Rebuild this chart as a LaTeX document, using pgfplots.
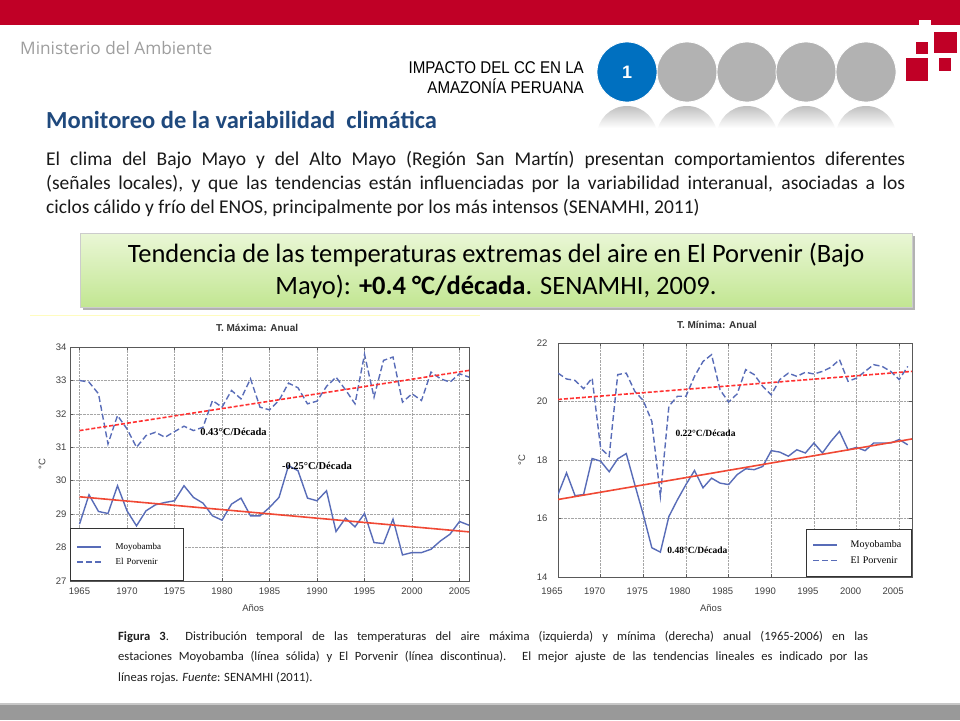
\documentclass[border=0pt]{standalone}
\usepackage{pgfplots}
\pgfplotsset{compat=1.18}
\usepackage{pgfplotstable}
\usepackage{fontspec}
\setmainfont{Carlito}
\newfontfamily\arial{Liberation Sans}
\newfontfamily\tnr{Liberation Serif}
\newfontfamily\osans{Open Sans}

\definecolor{mred}{RGB}{192,0,38}
\definecolor{cgray}{RGB}{178,178,178}
\definecolor{cblue}{RGB}{0,112,192}
\definecolor{headblue}{RGB}{31,73,125}
\definecolor{lineblue}{RGB}{88,108,184}
\definecolor{trendred}{RGB}{240,72,52}
\definecolor{dashred}{RGB}{255,50,50}
\definecolor{gtop}{RGB}{234,247,214}
\definecolor{gbot}{RGB}{194,230,146}

% T. maxima anual (degC)
\pgfplotstableread{
year moy por
1965 28.70 33.00
1966 29.58 32.95
1967 29.08 32.60
1968 29.02 31.10
1969 29.85 31.95
1970 29.10 31.55
1971 28.65 31.00
1972 29.10 31.35
1973 29.28 31.45
1974 29.35 31.30
1975 29.40 31.47
1976 29.85 31.63
1977 29.50 31.50
1978 29.33 31.60
1979 28.95 32.40
1980 28.82 32.20
1981 29.30 32.70
1982 29.48 32.45
1983 28.95 33.05
1984 28.95 32.20
1985 29.20 32.12
1986 29.50 32.40
1987 30.45 32.92
1988 30.30 32.78
1989 29.48 32.30
1990 29.40 32.38
1991 29.70 32.82
1992 28.48 33.10
1993 28.88 32.72
1994 28.62 32.30
1995 29.02 33.78
1996 28.15 32.50
1997 28.12 33.60
1998 28.85 33.70
1999 27.78 32.35
2000 27.85 32.60
2001 27.85 32.40
2002 27.95 33.25
2003 28.20 33.05
2004 28.40 32.95
2005 28.78 33.20
2006 28.67 33.10
}\tmaxdata

% T. minima anual (degC)
\pgfplotstableread{
year moy por
1965 16.82 20.97
1966 17.56 20.77
1967 16.78 20.72
1968 16.82 20.44
1969 18.05 20.80
1970 17.96 18.40
1971 17.60 18.13
1972 18.04 20.92
1973 18.22 20.97
1974 17.16 20.35
1975 16.13 20.03
1976 15.00 19.32
1977 14.85 16.76
1978 16.07 19.84
1979 16.64 20.18
1980 17.16 20.18
1981 17.64 20.86
1982 17.05 21.37
1983 17.38 21.60
1984 17.21 20.40
1985 17.16 19.98
1986 17.50 20.26
1987 17.70 21.09
1988 17.67 20.92
1989 17.78 20.52
1990 18.32 20.23
1991 18.27 20.75
1992 18.13 20.97
1993 18.35 20.86
1994 18.24 21.00
1995 18.58 20.94
1996 18.24 21.03
1997 18.64 21.17
1998 18.98 21.43
1999 18.35 20.69
2000 18.43 20.80
2001 18.32 21.03
2002 18.58 21.26
2003 18.58 21.20
2004 18.58 21.03
2005 18.70 20.75
2006 18.52 21.20
}\tmindata

\pgfplotsset{
  senamhi/.style={
    scale only axis,
    axis line style={black!65, line width=0.6pt},
    tick style={black!65, line width=0.5pt},
    tick align=inside,
    major tick length=3pt,
    grid=major,
    grid style={black!35, densely dotted, line width=0.5pt},
    /pgf/number format/assume math mode=true,
    /pgf/number format/1000 sep={},
    tick label style={font=\arial\fontsize{9.5}{11}\selectfont, text=black!75},
    xtick={1965,1970,...,2005},
    label style={font=\arial\fontsize{9.5}{11}\selectfont, text=black!75},
    title style={font=\arial\bfseries\fontsize{10}{12}\selectfont, text=black!80, anchor=center},
    legend cell align=left,
    legend image code/.code={\draw[##1] (0pt,0pt) -- (24pt,0pt);},
    every axis plot/.append style={line width=1.4pt},
  },
  moy/.style={lineblue, solid},
  por/.style={lineblue, dash pattern=on 6pt off 3pt},
  trs/.style={trendred, line width=1.6pt, forget plot},
  trd/.style={dashred, line width=1.6pt, dash pattern=on 4pt off 2pt, forget plot},
}

\begin{document}
\begin{tikzpicture}
\useasboundingbox (0,0) rectangle (960pt,-720pt);
\fill[white] (0,0) rectangle (960pt,-720pt);

% cabecera
\fill[mred] (0,0) rectangle (960pt,-25pt);
\fill[white] (919pt,-20pt) rectangle (931pt,-25.5pt);
\fill[mred] (934pt,-32pt) rectangle (957pt,-53pt);
\fill[mred] (916pt,-42pt) rectangle (928pt,-54pt);
\fill[mred] (906pt,-58pt) rectangle (928pt,-81pt);
\fill[mred] (939pt,-58pt) rectangle (951pt,-71pt);

\node[anchor=west, inner sep=0, text=black!38] at (20pt,-48pt)
  {\resizebox{192pt}{!}{\osans Ministerio del Ambiente}};

\node[anchor=east, inner sep=0, align=right, font=\arial\fontsize{17}{20}\selectfont]
  at (584pt,-78pt) {\scalebox{0.89}[1]{IMPACTO DEL CC EN LA}\\\scalebox{0.89}[1]{AMAZONÍA PERUANA}};

\foreach \cx in {687,747,806,866} {
  \fill[cgray, draw=white, line width=0.8pt] (\cx pt,-72pt) circle (30pt);
}
\fill[cblue, draw=white, line width=0.8pt] (627pt,-72pt) circle (30pt);
\node[text=white, font=\arial\bfseries\fontsize{18}{20}\selectfont] at (627pt,-72pt) {1};
\foreach \cx in {627,687,747,806,866} {
  \begin{scope}
    \clip (\cx pt,-136pt) circle (30pt);
    \shade[top color=black!26, bottom color=white] (\cx pt-31pt,-105pt) rectangle (\cx pt+31pt,-128pt);
  \end{scope}
}

\node[anchor=base west, inner sep=0, text=headblue, font=\bfseries\fontsize{24.5}{28}\selectfont]
  at (46pt,-128pt) {Monitoreo de la variabilidad\ \ climática};

\node[anchor=north west, inner sep=0, text width=859pt, align=justify, text=black!90,
  font=\fontsize{19.5}{24}\selectfont] at (46pt,-151pt)
  {El clima del Bajo Mayo y del Alto Mayo (Región San Martín) presentan comportamientos diferentes\linebreak
   (señales locales), y que las tendencias están influenciadas por la variabilidad interanual, asociadas a los\linebreak
   ciclos cálido y frío del ENOS, principalmente por los más intensos (SENAMHI, 2011)};

% recuadro verde
\fill[black!30] (83pt,-236pt) rectangle (915pt,-310pt);
\shade[top color=gtop, bottom color=gbot, draw=black!20] (80pt,-233pt) rectangle (912pt,-307pt);
\node[align=center, font=\fontsize{26.5}{32}\selectfont] at (496pt,-271pt)
  {Tendencia de las temperaturas extremas del aire en El Porvenir (Bajo\\
   Mayo): \textbf{+0.4 °C/década}. SENAMHI, 2009.};

\draw[yellow!25, line width=1pt] (30pt,-315pt) -- (480pt,-315pt);

% T. maxima
\begin{axis}[senamhi, at={(70pt,-581pt)}, anchor=south west, width=399pt, height=234pt,
  xmin=1964, xmax=2006, ymin=27, ymax=34, ytick={27,...,34},
  xticklabel style={yshift=-3pt},
  title={T. Máxima: Anual}, title style={at={(axis description cs:0.469,1.055)}},
  xlabel={Años}, xlabel style={at={(axis description cs:0.459,-0.115)}, anchor=center},
  ylabel={°C}, ylabel style={at={(axis description cs:-0.070,0.5)}, anchor=center},
  legend style={at={(axis description cs:0,0)}, anchor=south west, draw=black!80, line width=0.6pt,
    font=\tnr\fontsize{9}{11}\selectfont, inner xsep=6pt, inner ysep=13pt, row sep=3pt, column sep=12pt,
    nodes={inner sep=2pt, text width=60pt}},
]
\addplot[moy] table[x=year, y=moy] {\tmaxdata};
\addplot[por] table[x=year, y=por] {\tmaxdata};
\addplot[trs] coordinates {(1965,29.52) (2006,28.47)};
\addplot[trd] coordinates {(1965,31.50) (2006,33.30)};
\legend{Moyobamba, El Porvenir}
\node[anchor=west, inner sep=0, font=\tnr\bfseries\fontsize{10.5}{12}\selectfont] at (axis cs:1977.7,31.47) {0.43°C/Década};
\node[anchor=west, inner sep=0, font=\tnr\bfseries\fontsize{10.5}{12}\selectfont] at (axis cs:1986.3,30.45) {-0.25°C/Década};
\end{axis}

% T. minima
\begin{axis}[senamhi, at={(558pt,-577pt)}, anchor=south west, width=354pt, height=234pt,
  xmin=1965, xmax=2006.5, ymin=14, ymax=22, ytick={14,16,...,22},
  title={T. Mínima: Anual}, title style={at={(axis description cs:0.449,1.05)}},
  xlabel={Años}, xlabel style={at={(axis description cs:0.432,-0.132)}, anchor=center},
  ylabel={°C}, ylabel style={at={(axis description cs:-0.102,0.5)}, anchor=center},
  xticklabel style={xshift=-6pt, yshift=-7pt}, yticklabel style={xshift=-7pt},
  legend style={at={(axis description cs:1,0)}, anchor=south east, draw=black!80, line width=0.6pt,
    font=\tnr\fontsize{10}{12}\selectfont, inner xsep=6pt, inner ysep=10pt, row sep=3pt, column sep=11pt,
    nodes={inner sep=2pt, text width=53pt}},
]
\addplot[moy] table[x=year, y=moy] {\tmindata};
\addplot[por] table[x=year, y=por] {\tmindata};
\addplot[trs] coordinates {(1965,16.65) (2006.5,18.72)};
\addplot[trd] coordinates {(1965,20.07) (2006.5,21.03)};
\legend{Moyobamba, El Porvenir}
\node[anchor=west, inner sep=0, font=\tnr\bfseries\fontsize{9.5}{11}\selectfont] at (axis cs:1978.75,18.92) {0.22°C/Década};
\node[anchor=west, inner sep=0, font=\tnr\bfseries\fontsize{9.5}{11}\selectfont] at (axis cs:1977.8,14.93) {0.48°C/Década};
\end{axis}

% pie de figura
\node[anchor=north west, inner sep=0, text width=750pt, align=justify, text=black!88,
  font=\fontsize{12.6}{20.5}\selectfont] at (118pt,-631pt)
  {\textbf{Figura 3}.\hspace{1.3em}Distribución temporal de las temperaturas del aire máxima (izquierda) y mínima (derecha) anual (1965-2006) en las\linebreak
   estaciones Moyobamba (línea sólida) y El Porvenir (línea discontinua). El mejor ajuste de las tendencias lineales es indicado por las\linebreak
   líneas rojas. \textit{Fuente}: SENAMHI (2011).};

% barra inferior
\fill[black!22] (0,-703pt) rectangle (960pt,-705pt);
\fill[black!40] (0,-705pt) rectangle (960pt,-720pt);
\end{tikzpicture}
\end{document}
